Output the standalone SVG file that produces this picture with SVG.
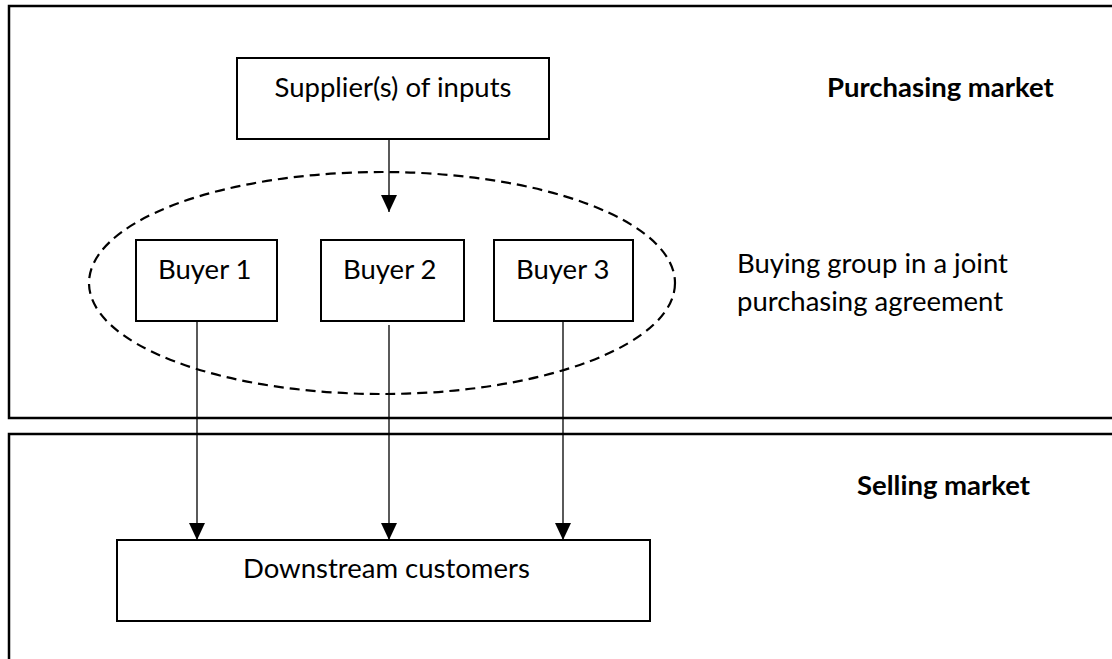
<svg xmlns="http://www.w3.org/2000/svg" width="1112" height="659" viewBox="0 0 1112 659">
  <style>
    .frame { fill: none; stroke: #000; stroke-width: 2.5; }
    .box { fill: #fff; stroke: #000; stroke-width: 2; }
    .lbl { font-family: Lato, "Open Sans", "Liberation Sans", sans-serif; font-size: 27.5px; fill: #000; }
    .bold { font-weight: bold; }
    .conn { stroke: #000; stroke-width: 1.3; fill: none; }
    .group { fill: none; stroke: #000; stroke-width: 2.2; stroke-dasharray: 10 6; }
  </style>
  <defs>
    <marker id="arrow" markerUnits="userSpaceOnUse" markerWidth="17" markerHeight="16" refX="17" refY="8" orient="auto" viewBox="0 0 17 16">
      <path d="M0,0 L17,8 L0,16 Z" fill="#000"/>
    </marker>
  </defs>

  <g id="purchasing-market">
    <rect class="frame" x="9" y="6" width="1120" height="412"/>
    <text class="lbl bold" x="827" y="97">Purchasing market</text>
  </g>
  <g id="selling-market">
    <rect class="frame" x="9" y="434" width="1120" height="240"/>
    <text class="lbl bold" x="857" y="495">Selling market</text>
  </g>

  <g id="buying-group">
    <ellipse class="group" cx="382" cy="283" rx="293" ry="111"/>
    <text class="lbl" x="737" y="273">Buying group in a joint</text>
    <text class="lbl" x="737" y="311">purchasing agreement</text>
  </g>

  <g id="supplier">
    <rect class="box" x="237" y="58" width="312" height="81"/>
    <text class="lbl" x="393" y="97" text-anchor="middle">Supplier(s) of inputs</text>
  </g>

  <g id="buyer1">
    <rect class="box" x="136" y="240" width="141" height="81"/>
    <text class="lbl" x="158" y="279">Buyer 1</text>
  </g>
  <g id="buyer2">
    <rect class="box" x="321" y="240" width="143" height="81"/>
    <text class="lbl" x="343" y="279">Buyer 2</text>
  </g>
  <g id="buyer3">
    <rect class="box" x="494" y="240" width="139" height="81"/>
    <text class="lbl" x="516" y="279">Buyer 3</text>
  </g>

  <g id="downstream">
    <rect class="box" x="117" y="540" width="533" height="81"/>
    <text class="lbl" x="243" y="578">Downstream customers</text>
  </g>

  <g id="connectors">
    <line class="conn" x1="389" y1="139" x2="389" y2="212" marker-end="url(#arrow)"/>
    <line class="conn" x1="197" y1="321" x2="197" y2="540" marker-end="url(#arrow)"/>
    <line class="conn" x1="389" y1="325" x2="389" y2="540" marker-end="url(#arrow)"/>
    <line class="conn" x1="563" y1="321" x2="563" y2="540" marker-end="url(#arrow)"/>
  </g>
</svg>
